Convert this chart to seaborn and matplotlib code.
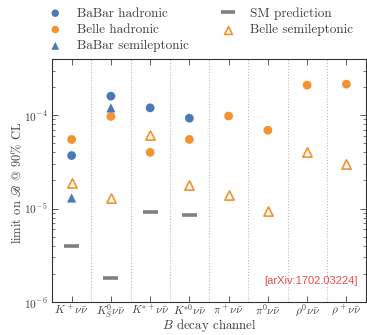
import numpy as np
import pandas as pd
import matplotlib
matplotlib.use("Agg")
import matplotlib.pyplot as plt
import seaborn as sns

channels = [r"$K^+\nu\bar{\nu}$", r"$K_S^0\nu\bar{\nu}$", r"$K^{*+}\nu\bar{\nu}$",
            r"$K^{*0}\nu\bar{\nu}$", r"$\pi^+\nu\bar{\nu}$", r"$\pi^0\nu\bar{\nu}$",
            r"$\rho^0\nu\bar{\nu}$", r"$\rho^+\nu\bar{\nu}$"]
babar_had = [3.7e-5, 1.6e-4, 1.2e-4, 9.3e-5, np.nan, np.nan, np.nan, np.nan]
belle_had = [5.5e-5, 9.7e-5, 4.0e-5, 5.5e-5, 9.8e-5, 6.9e-5, 2.1e-4, 2.15e-4]
babar_sl = [1.3e-5, 1.2e-4, np.nan, np.nan, np.nan, np.nan, np.nan, np.nan]
belle_sl = [1.9e-5, 1.3e-5, 6.1e-5, 1.8e-5, 1.4e-5, 9.4e-6, 4.0e-5, 3.0e-5]
sm_pred = [4.0e-6, 1.8e-6, 9.1e-6, 8.5e-6, np.nan, np.nan, np.nan, np.nan]

BLUE = "#4a7ab6"
ORANGE = "#f3922f"
GRAY = "#808080"
TXT = "#404040"

sns.set_style("ticks")
plt.rcParams.update({
    "font.family": ["cmr10", "DejaVu Serif"],
    "mathtext.fontset": "cm",
    "axes.formatter.use_mathtext": True,
    "font.size": 9.3,
    "text.color": TXT,
    "axes.labelcolor": TXT,
    "xtick.color": TXT,
    "ytick.color": TXT,
    "axes.edgecolor": "#333333",
})

fig = plt.figure(figsize=(3.67, 3.35), dpi=100)
ax = fig.add_axes([0.1417, 0.0985, 0.8556, 0.7254])

pos = np.arange(len(channels))

def frame(vals):
    d = pd.DataFrame({"x": pos, "y": vals})
    return d.dropna()

sns.scatterplot(data=frame(babar_had), x="x", y="y", ax=ax, marker="o", s=40,
                color=BLUE, edgecolor="none", label="BaBar hadronic", zorder=3)
sns.scatterplot(data=frame(belle_had), x="x", y="y", ax=ax, marker="o", s=40,
                color=ORANGE, edgecolor="none", label="Belle hadronic", zorder=3)
sns.scatterplot(data=frame(babar_sl), x="x", y="y", ax=ax, marker="^", s=44,
                color=BLUE, edgecolor="none", label="BaBar semileptonic", zorder=3)
sm = frame(sm_pred)
ax.hlines(sm["y"], sm["x"] - 0.19, sm["x"] + 0.19, color=GRAY, lw=2.6,
          label="SM prediction", zorder=3)
bsl = frame(belle_sl)
ax.scatter(bsl["x"], bsl["y"], marker="^", s=44, facecolor="white",
           edgecolor=ORANGE, linewidth=1.2, label="Belle semileptonic", zorder=3)

ax.set_yscale("log")
ax.set_ylim(1e-6, 4e-4)
ax.set_xlim(-0.5, len(channels) - 0.5)
ax.set_xticks(pos)
ax.set_xticklabels(channels)
ax.set_xticks(pos[:-1] + 0.5, minor=True)
ax.grid(axis="x", which="minor", ls=":", color="#bbbbbb", lw=0.8)
ax.tick_params(axis="x", which="minor", length=0)
ax.tick_params(axis="both", which="major", direction="in", length=4, width=0.6,
               top=True, right=True, labelsize=8.2)
ax.tick_params(axis="x", which="major", pad=0.5)
ax.tick_params(axis="y", which="major", pad=3)
ax.tick_params(axis="y", which="minor", direction="in", length=2.5, width=0.5,
               right=True, left=True)

ax.set_xlabel(r"$B$ decay channel", fontsize=9.3)
ax.xaxis.label.set_va("center")
ax.xaxis.set_label_coords(0.5, -0.097)
ax.set_ylabel(r"limit on $\mathscr{B}$ @ 90% CL", fontsize=9.0,
              math_fontfamily="stix")
ax.yaxis.label.set_va("center")
ax.yaxis.set_label_coords(-0.111, 0.49)

for s in ax.spines.values():
    s.set_linewidth(0.8)

ax.text(0.975, 0.086, "[arXiv:1702.03224]", transform=ax.transAxes,
        ha="right", va="center", color="#f04a4a", fontsize=8,
        family="Liberation Sans")

h, l = ax.get_legend_handles_labels()
if ax.get_legend() is not None:
    ax.get_legend().remove()
order = ["BaBar hadronic", "Belle hadronic", "BaBar semileptonic",
         "SM prediction", "Belle semileptonic"]
hh = [h[l.index(o)] for o in order]
fig.legend(hh, order, ncol=2, frameon=False, loc="upper left",
           bbox_to_anchor=(0.1308, 0.979), bbox_transform=fig.transFigure,
           fontsize=9.5, handlelength=1.1, handletextpad=1.12,
           columnspacing=2.4, labelspacing=0.31, borderpad=0,
           borderaxespad=0, markerscale=0.85)

fig.savefig("out.png", dpi=100)
